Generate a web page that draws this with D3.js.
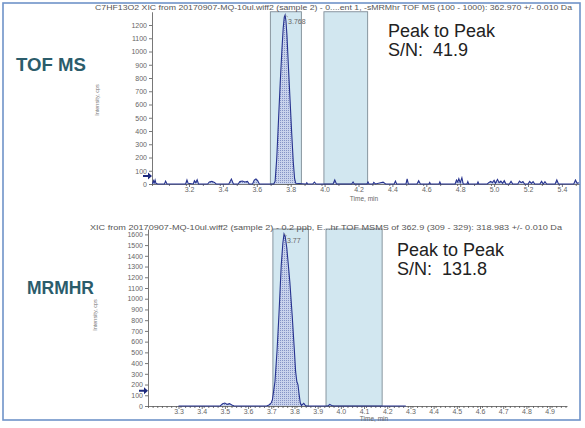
<!DOCTYPE html>
<html>
<head>
<meta charset="utf-8">
<script src="https://cdn.jsdelivr.net/npm/d3@7"></script>
<style>
  body { margin: 0; background: #fff; }
  svg { font-family: "Liberation Sans", Arial, sans-serif; }
  .axis path, .axis line { stroke: #555; stroke-width: 0.8; }
  .axis text { fill: #666; font-size: 7px; }
</style>
</head>
<body>
<div id="chart"></div>
<script>
// chart data
const tofTitle = "C7HF13O2 XIC from 20170907-MQ-10ul.wiff2 (sample 2) - 0....ent 1, -sMRMhr TOF MS (100 - 1000): 362.970 +/- 0.010 Da";
const mrmTitle = "XIC from 20170907-MQ-10ul.wiff2 (sample 2) - 0.2 ppb, E...hr TOF MSMS of 362.9 (309 - 329): 318.983 +/- 0.010 Da";

const tofXTicks = [3.2, 3.4, 3.6, 3.8, 4.0, 4.2, 4.4, 4.6, 4.8, 5.0, 5.2, 5.4];
const tofYTicks = [0, 100, 200, 300, 400, 500, 600, 700, 800, 900, 1000, 1100, 1200];
const mrmXTicks = [3.3, 3.4, 3.5, 3.6, 3.7, 3.8, 3.9, 4.0, 4.1, 4.2, 4.3, 4.4, 4.5, 4.6, 4.7, 4.8, 4.9];
const mrmYTicks = [0, 100, 200, 300, 400, 500, 600, 700, 800, 900, 1000, 1100, 1200, 1300, 1400, 1500, 1600];

// integration windows (peak, noise) in minutes
const tofRegions = [[3.68, 3.863], [3.996, 4.254]];
const mrmRegions = [[3.707, 3.86], [3.936, 4.178]];

// [time, cps]
const tofTrace = [
  [2.985,0],[2.99,25],[2.995,10],[3.0,30],[3.005,5],[3.015,0],[3.055,0],[3.062,22],[3.07,0],
  [3.18,0],[3.188,30],[3.195,5],[3.225,0],[3.232,25],[3.24,10],[3.248,32],[3.256,0],
  [3.31,0],[3.32,15],[3.335,20],[3.35,12],[3.36,0],[3.435,0],[3.45,38],[3.462,0],
  [3.49,0],[3.5,18],[3.515,22],[3.53,15],[3.545,20],[3.555,0],[3.575,0],[3.585,30],[3.595,38],[3.605,25],[3.615,0],
  [3.70,0],[3.708,20],[3.718,200],[3.728,480],[3.738,760],[3.748,1010],[3.756,1180],[3.762,1260],[3.767,1275],
  [3.772,1230],[3.778,1120],[3.786,900],[3.796,640],[3.806,380],[3.815,170],[3.823,40],[3.83,5],
  [3.89,0],[3.895,10],[3.9,0],[3.93,0],[3.94,15],[3.95,0],[4.05,0],[4.06,30],[4.07,0],
  [4.16,0],[4.168,15],[4.175,0],[4.25,0],[4.256,15],[4.262,0],[4.285,0],[4.29,12],[4.3,0],
  [4.33,10],[4.345,14],[4.36,0],[4.41,0],[4.418,22],[4.425,0],[4.48,0],[4.487,38],[4.494,0],
  [4.545,0],[4.555,25],[4.565,0],[4.615,0],[4.62,12],[4.625,0],[4.675,0],[4.68,15],[4.685,0],
  [4.77,0],[4.778,30],[4.785,15],[4.792,40],[4.8,10],[4.81,47],[4.818,0],[4.84,0],[4.845,18],[4.85,0],
  [4.9,0],[4.905,15],[4.91,0],[4.96,0],[4.97,12],[4.98,20],[4.99,10],[5.0,28],[5.008,5],[5.02,35],
  [5.03,10],[5.04,22],[5.05,5],[5.06,25],[5.07,0],[5.09,0],[5.1,20],[5.11,0],[5.14,0],[5.15,22],
  [5.16,10],[5.17,18],[5.18,0],[5.2,0],[5.21,20],[5.22,5],[5.23,18],[5.24,0],[5.27,0],[5.28,20],
  [5.29,0],[5.3,18],[5.31,0],[5.36,0],[5.37,30],[5.38,0],[5.47,0],[5.48,30],[5.49,5],[5.5,10]
];
const mrmTrace = [
  [3.3,0],[3.48,0],[3.49,22],[3.5,28],[3.51,15],[3.52,22],[3.53,10],[3.54,0],
  [3.68,0],[3.69,10],[3.70,30],[3.705,60],[3.716,228],[3.725,520],[3.733,848],[3.743,1314],
  [3.75,1520],[3.755,1603],[3.76,1580],[3.767,1472],[3.78,1158],[3.79,848],[3.799,538],
  [3.805,320],[3.81,230],[3.815,200],[3.82,110],[3.825,30],[3.83,5],[3.835,15],[3.84,25],
  [3.845,10],[3.85,0],[3.945,0],[3.952,15],[3.96,5],[3.97,0],[4.28,0]
];
const tofApex = {t: 3.767, v: 1275, label: "3.768"};
const mrmApex = {t: 3.755, v: 1603, label: "3.77"};
const tofSN = "41.9", mrmSN = "131.8";
const tofArrow = 60, mrmArrow = 143;

const width = 585, height = 428;
const svg = d3.select("#chart").append("svg")
  .attr("width", width).attr("height", height);

// stipple for the peak fill
const pat = svg.append("defs").append("pattern")
  .attr("id", "dots").attr("width", 2).attr("height", 2)
  .attr("patternUnits", "userSpaceOnUse");
pat.append("rect").attr("width", 2).attr("height", 2).attr("fill", "#c9d3ec");
pat.append("rect").attr("width", 1).attr("height", 1).attr("fill", "#8593c6");

// outer frame
svg.append("rect").attr("x", 3).attr("y", 3).attr("width", 577).attr("height", 417)
  .attr("fill", "none").attr("stroke", "#6f93c9").attr("stroke-width", 1.6);

function panel(p) {
  const x = d3.scaleLinear().domain(p.xDomain).range(p.xRange);
  const y = d3.scaleLinear().domain(p.yDomain).range(p.yRange);
  const g = svg.append("g");

  // integration windows
  g.selectAll("rect.win").data(p.regions).join("rect")
    .attr("class", "win")
    .attr("x", d => x(d[0])).attr("width", d => x(d[1]) - x(d[0]))
    .attr("y", y(p.yDomain[1])).attr("height", y(0) - y(p.yDomain[1]))
    .attr("fill", "#d2e7f0").attr("stroke", "#7e8c96").attr("stroke-width", 0.9);

  // axes
  const minor = d3.range(p.xDomain[0], p.xDomain[1], p.minorStep);
  g.append("g").attr("class", "axis")
    .attr("transform", `translate(0,${y(0)})`)
    .call(d3.axisBottom(x).tickValues(minor).tickSize(2).tickFormat(""))
    .call(a => a.select(".domain").remove());
  g.append("g").attr("class", "axis")
    .attr("transform", `translate(0,${y(0)})`)
    .call(d3.axisBottom(x).tickValues(p.xTicks).tickSize(3).tickSizeOuter(0).tickPadding(0.5)
      .tickFormat(d3.format(".1f")));
  g.append("g").attr("class", "axis")
    .attr("transform", `translate(${p.xRange[0]},0)`)
    .call(d3.axisLeft(y).tickValues(p.yTicks).tickSize(3).tickSizeOuter(0).tickPadding(2)
      .tickFormat(d3.format("d")));

  // trace
  const area = d3.area().x(d => x(d[0])).y0(y(0)).y1(d => y(d[1]));
  const line = d3.line().x(d => x(d[0])).y(d => y(d[1]));
  g.append("path").datum(p.trace).attr("d", area).attr("fill", "url(#dots)");
  g.append("path").datum(p.trace).attr("d", line)
    .attr("fill", "none").attr("stroke", "#27338f").attr("stroke-width", 1.1);

  // apex label
  const ax = x(p.apex.t), ay = y(p.apex.v);
  g.append("path").attr("d", `M${ax},${ay} L${ax + 3},${ay + 2}`)
    .attr("stroke", "#888").attr("stroke-width", 0.6);
  g.append("text").attr("x", ax + 3).attr("y", ay + 8.5)
    .attr("font-size", 7).attr("fill", "#666").text(p.apex.label);

  // threshold arrow on y axis
  const yy = y(p.arrow), x0 = p.xRange[0];
  g.append("path")
    .attr("d", `M${x0 - 9},${yy - 1} L${x0 - 4},${yy - 1} L${x0 - 4},${yy - 3.5} L${x0},${yy} L${x0 - 4},${yy + 3.5} L${x0 - 4},${yy + 1} L${x0 - 9},${yy + 1} Z`)
    .attr("fill", "#1d2a7e");

  // titles
  g.append("text").attr("x", p.titleX).attr("y", p.titleY)
    .attr("font-size", 7.4).attr("fill", "#555")
    .attr("textLength", p.titleW).attr("lengthAdjust", "spacingAndGlyphs")
    .text(p.title);
  g.append("text").attr("x", p.timeX).attr("y", p.timeY).attr("text-anchor", "middle")
    .attr("font-size", 6.5).attr("fill", "#666").text("Time, min");
  g.append("text")
    .attr("transform", `translate(${p.intX},${p.intY}) rotate(-90)`)
    .attr("text-anchor", "middle").attr("font-size", 5.5).attr("fill", "#777")
    .text("Intensity, cps");

  // big labels
  g.append("text").attr("x", p.nameX).attr("y", p.nameY)
    .attr("font-size", 17.5).attr("font-weight", "bold").attr("fill", "#2b5c6b")
    .attr("textLength", p.nameW).attr("lengthAdjust", "spacingAndGlyphs")
    .text(p.name);
  g.append("text").attr("x", p.snX).attr("y", p.snY)
    .attr("font-size", 18).attr("fill", "#222").text("Peak to Peak");
  g.append("text").attr("x", p.snX).attr("y", p.snY + 19)
    .attr("font-size", 18).attr("fill", "#222").attr("xml:space", "preserve")
    .text("S/N:  " + p.sn);
}

panel({
  xDomain: [2.9817, 5.5009], xRange: [152, 579],
  yDomain: [0, 1300], yRange: [184, 11.75],
  xTicks: tofXTicks, yTicks: tofYTicks, minorStep: 0.1,
  regions: tofRegions, trace: tofTrace, apex: tofApex, arrow: tofArrow,
  title: tofTitle, titleX: 95, titleY: 9.5, titleW: 477,
  timeX: 364, timeY: 200.5, intX: 99, intY: 100,
  name: "TOF MS", nameX: 16, nameY: 71, nameW: 70,
  snX: 388, snY: 37, sn: tofSN
});

panel({
  xDomain: [3.1685, 4.975], xRange: [148, 567],
  yDomain: [0, 1650], yRange: [406, 229],
  xTicks: mrmXTicks, yTicks: mrmYTicks, minorStep: 0.02,
  regions: mrmRegions, trace: mrmTrace, apex: mrmApex, arrow: mrmArrow,
  title: mrmTitle, titleX: 90, titleY: 229.5, titleW: 472,
  timeX: 374, timeY: 421, intX: 97, intY: 315,
  name: "MRMHR", nameX: 27, nameY: 294, nameW: 67,
  snX: 397, snY: 256, sn: mrmSN
});
</script>
</body>
</html>
